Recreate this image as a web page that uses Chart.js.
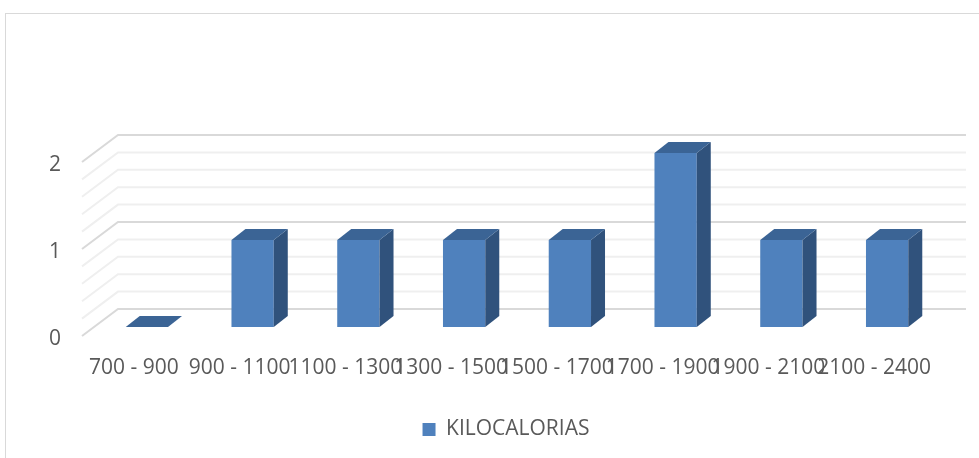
<!DOCTYPE html>
<html>
<head>
<meta charset="utf-8">
<script src="https://cdn.jsdelivr.net/npm/chart.js@4/dist/chart.umd.min.js"></script>
<style>
  html, body { margin: 0; padding: 0; background: #fff; overflow: hidden; }
  .frame {
    position: absolute; left: 5px; top: 13px;
    width: 1000px; height: 450px;
    border: 1px solid #d9d9d9;
  }
  canvas { display: block; }
</style>
</head>
<body>
<div class="frame"><canvas id="chart" width="1000" height="450"></canvas></div>
<script>
//----------------------------------------------------------------------
// Kilocalorie ranges, drawn as a 3D-style column chart.
//----------------------------------------------------------------------
var rangos = ['700 - 900', '900 - 1100', '1100 - 1300', '1300 - 1500',
              '1500 - 1700', '1700 - 1900', '1900 - 2100', '2100 - 2400'];
var kilocalorias = [0, 1, 1, 1, 1, 2, 1, 1];
var serieNombre = 'KILOCALORIAS';

var FRONT = '#4f81bd', TOP = '#3b6495', SIDE = '#30527c';
var TEXT = '#595959';
var FONT = "'Open Sans', sans-serif";

// Depth of the side wall and of each column.
var wallDX = 36, wallDY = 27;
var barDX = 14, barDY = 11;

function poly(ctx, pts, color) {
  ctx.beginPath();
  ctx.moveTo(pts[0][0], pts[0][1]);
  for (var i = 1; i < pts.length; i++) ctx.lineTo(pts[i][0], pts[i][1]);
  ctx.closePath();
  ctx.fillStyle = color;
  ctx.fill();
}

// Back wall + left wall gridlines, then the top and side faces of each column.
var walls3d = {
  id: 'walls3d',
  afterLayout: function(chart) {
    // centre the legend on the full canvas, not just the padded area
    var lg = chart.legend;
    lg.left = 0; lg.right = chart.width; lg.width = chart.width;
  },
  beforeDatasetsDraw: function(chart) {
    var ctx = chart.ctx, area = chart.chartArea, y = chart.scales.y;
    ctx.save();
    ctx.lineWidth = 2;
    y.ticks.forEach(function(t) {
      var py = y.getPixelForValue(t.value);
      var major = Math.abs(t.value - Math.round(t.value)) < 1e-6;
      ctx.strokeStyle = major ? '#d9d9d9' : '#efefef';
      ctx.beginPath();
      ctx.moveTo(area.left - 12, py + 9);
      ctx.lineTo(area.left - 12 + wallDX, py + 9 - wallDY);
      ctx.lineTo(area.right + 26, py + 9 - wallDY);
      ctx.stroke();
    });
    ctx.restore();
  },
  afterDatasetsDraw: function(chart) {
    var ctx = chart.ctx;
    ctx.save();
    chart.getDatasetMeta(0).data.forEach(function(bar) {
      var p = bar.getProps(['x', 'y', 'base', 'width'], true);
      var l = p.x - p.width / 2, r = p.x + p.width / 2;
      poly(ctx, [[r, p.y], [r + barDX, p.y - barDY], [r + barDX, p.base - barDY], [r, p.base]], SIDE);
      poly(ctx, [[l, p.y], [r, p.y], [r + barDX, p.y - barDY], [l + barDX, p.y - barDY]], TOP);
    });
    ctx.restore();
  }
};

new Chart(document.getElementById('chart'), {
  type: 'bar',
  data: {
    labels: rangos,
    datasets: [{
      label: serieNombre,
      data: kilocalorias,
      backgroundColor: FRONT,
      barPercentage: 0.4,
      categoryPercentage: 1
    }]
  },
  options: {
    responsive: false,
    animation: false,
    layout: { padding: { left: 0, right: 66, top: 139, bottom: 14 } },
    scales: {
      x: {
        grid: { display: false },
        border: { display: false },
        ticks: {
          color: TEXT, font: { family: FONT, size: 21 },
          autoSkip: false, maxRotation: 0, minRotation: 0,
          padding: 20, labelOffset: -13
        },
        afterFit: function(scale) { scale.height = 82; }
      },
      y: {
        min: 0, max: 2,
        grid: { display: false },
        border: { display: false },
        ticks: {
          stepSize: 0.2, autoSkip: false,
          color: TEXT, font: { family: FONT, size: 21 },
          padding: 25, labelOffset: 12,
          callback: function(v) {
            return Math.abs(v - Math.round(v)) < 1e-6 ? Math.round(v) : '';
          }
        },
        afterFit: function(scale) { scale.width = 88; }
      }
    },
    plugins: {
      legend: {
        position: 'bottom',
        labels: {
          color: TEXT, font: { family: FONT, size: 21 },
          boxWidth: 13, boxHeight: 13, padding: 10
        }
      },
      tooltip: { enabled: false }
    }
  },
  plugins: [walls3d]
});
</script>
</body>
</html>
